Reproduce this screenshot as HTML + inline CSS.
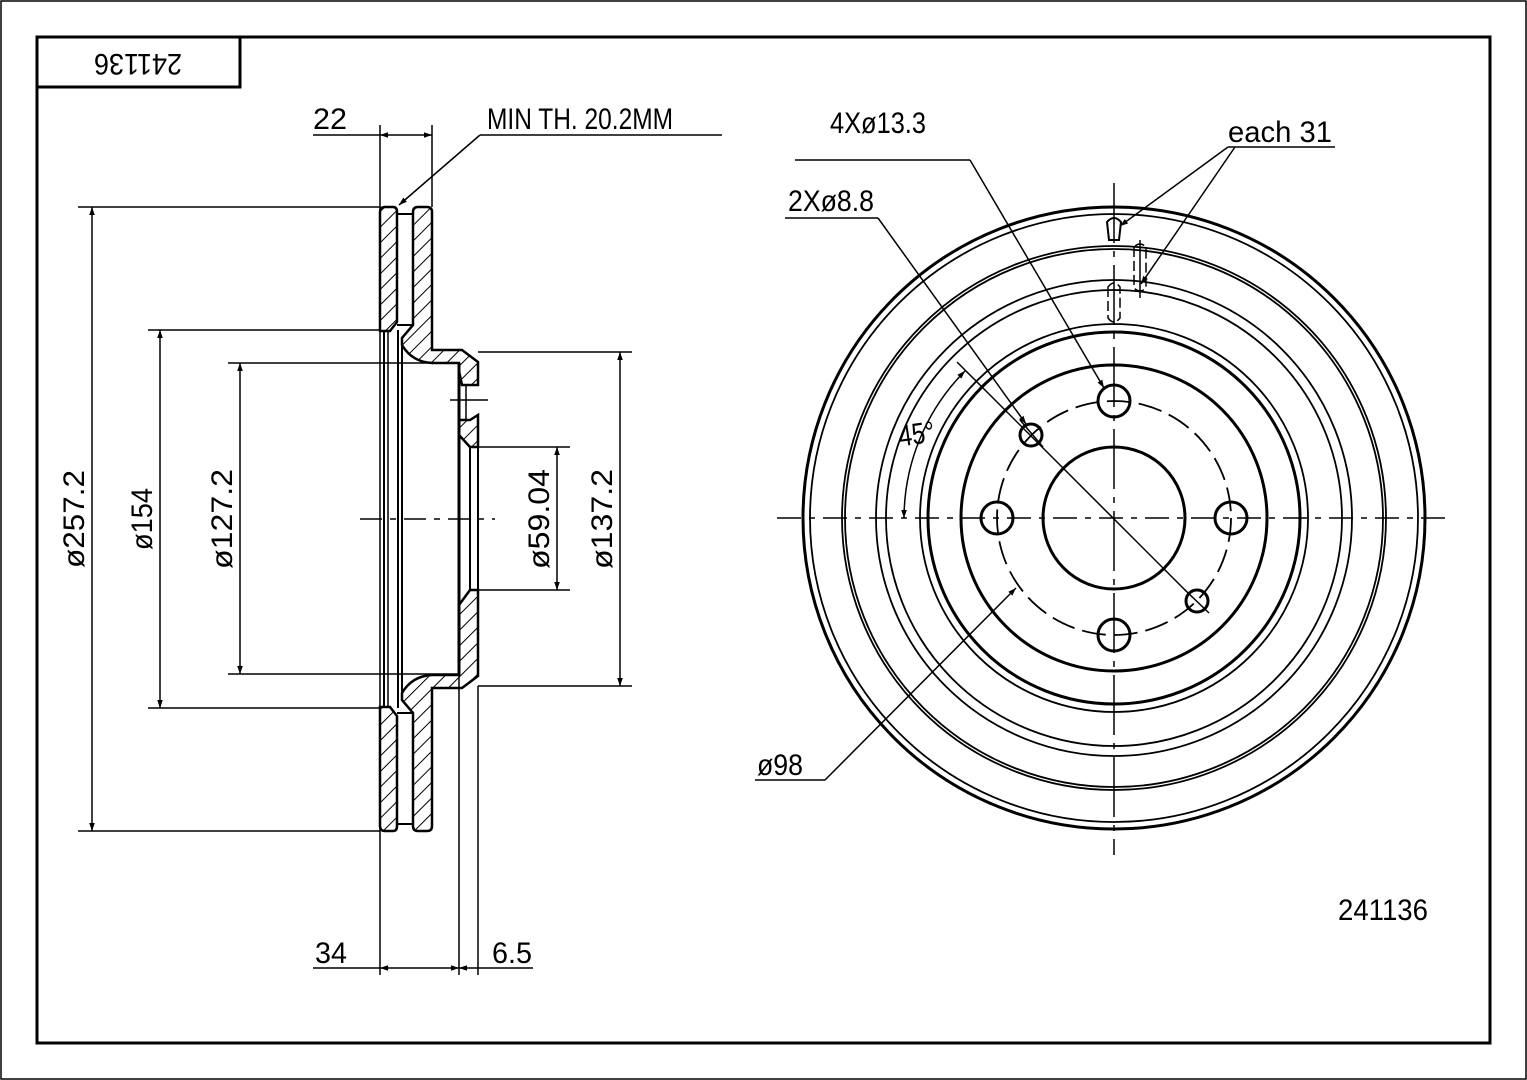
<!DOCTYPE html>
<html><head><meta charset="utf-8"><style>
html,body{margin:0;padding:0;background:#fff}
svg{display:block}
text{font-family:"Liberation Sans",sans-serif;font-size:30px;fill:#000}
</style></head><body>
<svg width="1527" height="1080" viewBox="0 0 1527 1080" xmlns="http://www.w3.org/2000/svg">
<defs>
<pattern id="h" width="11" height="11" patternUnits="userSpaceOnUse" patternTransform="rotate(45)">
<line x1="0" y1="0" x2="0" y2="11" stroke="#000" stroke-width="2"/>
</pattern>
<marker id="a" viewBox="0 0 10 10" refX="10" refY="5" markerWidth="14" markerHeight="8" orient="auto-start-reverse" markerUnits="userSpaceOnUse">
<path d="M0,1.5 L10,5 L0,8.5 Z" fill="#000"/>
</marker>
</defs>
<rect x="1" y="1" width="1525" height="1078" fill="none" stroke="#000" stroke-width="1.5"/>
<rect x="37" y="37" width="1453" height="1006" fill="none" stroke="#000" stroke-width="3"/>
<rect x="37" y="37" width="203" height="50" fill="none" stroke="#000" stroke-width="3"/>
<text x="138" y="62" transform="rotate(180 138 62)" text-anchor="middle" dominant-baseline="middle" textLength="88" lengthAdjust="spacingAndGlyphs">241136</text>

<g stroke="#000" fill="none">
<line x1="384" y1="330" x2="384" y2="708" stroke-width="2"/>
<line x1="388" y1="330" x2="388" y2="708" stroke-width="1.5"/>
<line x1="398" y1="330" x2="398" y2="708" stroke-width="2"/>
<line x1="402" y1="345" x2="402" y2="695" stroke-width="2"/>
<path d="M380,212 Q380,207 385,207 L393,207 Q397,207 397,212 L397,322 L390,331 L380,331 Z" fill="url(#h)" stroke-width="2.5"/>
<path d="M380,826 Q380,831 385,831 L393,831 Q397,831 397,826 L397,716 L390,707 L380,707 Z" fill="url(#h)" stroke-width="2.5"/>
<path d="M413,212 Q413,207 418,207 L427,207 Q432,207 432,212 L432,350 L462,350 L478,362 L478,385 L462,385 L459,371 L459,363 L432,363 Q412,362 402,345 L402,338 L413,325 Z" fill="url(#h)" stroke-width="2.5"/>
<path d="M413,826 Q413,831 418,831 L427,831 Q432,831 432,826 L432,688 L462,688 L478,676 L478,590 L470,590 L459,605 L459,675 L432,675 Q412,676 402,693 L402,700 L413,713 Z" fill="url(#h)" stroke-width="2.5"/>
<path d="M459,420 L470,420 L478,415 L478,447 L470,447 L459,435 Z" fill="url(#h)" stroke-width="2.5"/>
<line x1="397" y1="214" x2="413" y2="214" stroke-width="2"/>
<line x1="397" y1="325" x2="413" y2="325" stroke-width="2"/>
<line x1="397" y1="713" x2="413" y2="713" stroke-width="2"/>
<line x1="397" y1="824" x2="413" y2="824" stroke-width="2"/>
<line x1="459" y1="363" x2="459" y2="675" stroke-width="3"/>
<line x1="466" y1="385" x2="466" y2="420" stroke-width="1.5"/>
<line x1="470" y1="447" x2="470" y2="590" stroke-width="2"/>
<line x1="478" y1="447" x2="478" y2="590" stroke-width="2"/>
<line x1="450" y1="400" x2="488" y2="400" stroke-width="1.5"/>
<line x1="360" y1="519" x2="495" y2="519" stroke-width="1.5" stroke-dasharray="22,8,6,8"/>
</g>

<g stroke="#000" stroke-width="1.5" fill="none">
<line x1="380" y1="125" x2="380" y2="975"/>
<line x1="432" y1="125" x2="432" y2="207"/>
<line x1="459" y1="675" x2="459" y2="975"/>
<line x1="478" y1="686" x2="478" y2="975"/>
<line x1="313" y1="135" x2="380" y2="135"/>
<line x1="380" y1="135" x2="432" y2="135" marker-start="url(#a)" marker-end="url(#a)"/>
<line x1="480" y1="135" x2="722" y2="135"/>
<line x1="480" y1="135" x2="399" y2="205" marker-end="url(#a)"/>
<line x1="78" y1="207" x2="380" y2="207"/>
<line x1="78" y1="831" x2="380" y2="831"/>
<line x1="92" y1="207" x2="92" y2="831" marker-start="url(#a)" marker-end="url(#a)"/>
<line x1="148" y1="330" x2="380" y2="330"/>
<line x1="148" y1="708" x2="380" y2="708"/>
<line x1="160" y1="330" x2="160" y2="708" marker-start="url(#a)" marker-end="url(#a)"/>
<line x1="228" y1="363" x2="459" y2="363"/>
<line x1="228" y1="674" x2="459" y2="674"/>
<line x1="240" y1="363" x2="240" y2="674" marker-start="url(#a)" marker-end="url(#a)"/>
<line x1="478" y1="447" x2="570" y2="447"/>
<line x1="478" y1="590" x2="570" y2="590"/>
<line x1="557" y1="447" x2="557" y2="590" marker-start="url(#a)" marker-end="url(#a)"/>
<line x1="478" y1="352" x2="632" y2="352"/>
<line x1="478" y1="686" x2="632" y2="686"/>
<line x1="620" y1="352" x2="620" y2="686" marker-start="url(#a)" marker-end="url(#a)"/>
<line x1="313" y1="968" x2="380" y2="968"/>
<line x1="380" y1="968" x2="459" y2="968" marker-start="url(#a)" marker-end="url(#a)"/>
<line x1="459" y1="968" x2="478" y2="968" marker-start="url(#a)"/>
<line x1="478" y1="968" x2="533" y2="968"/>
</g>
<text x="313" y="129" textLength="34" lengthAdjust="spacingAndGlyphs">22</text>
<text x="487" y="129" textLength="186" lengthAdjust="spacingAndGlyphs">MIN TH. 20.2MM</text>
<text x="315" y="963" textLength="32" lengthAdjust="spacingAndGlyphs">34</text>
<text x="492" y="963" textLength="40" lengthAdjust="spacingAndGlyphs">6.5</text>
<text transform="translate(84 519) rotate(-90)" text-anchor="middle" textLength="98" lengthAdjust="spacingAndGlyphs">ø257.2</text>
<text transform="translate(152 519) rotate(-90)" text-anchor="middle" textLength="62" lengthAdjust="spacingAndGlyphs">ø154</text>
<text transform="translate(232 519) rotate(-90)" text-anchor="middle" textLength="100" lengthAdjust="spacingAndGlyphs">ø127.2</text>
<text transform="translate(549 519) rotate(-90)" text-anchor="middle" textLength="100" lengthAdjust="spacingAndGlyphs">ø59.04</text>
<text transform="translate(612 519) rotate(-90)" text-anchor="middle" textLength="100" lengthAdjust="spacingAndGlyphs">ø137.2</text>

<g stroke="#000" fill="none">
<circle cx="1114" cy="518" r="311" stroke-width="3"/>
<circle cx="1114" cy="518" r="304" stroke-width="1.8"/>
<circle cx="1114" cy="518" r="272" stroke-width="1.8"/>
<circle cx="1114" cy="518" r="269" stroke-width="1.8"/>
<circle cx="1114" cy="518" r="238" stroke-width="1.8"/>
<circle cx="1114" cy="518" r="228" stroke-width="1.8"/>
<circle cx="1114" cy="518" r="194" stroke-width="1.8"/>
<circle cx="1114" cy="518" r="186" stroke-width="3"/>
<circle cx="1114" cy="518" r="153" stroke-width="3"/>
<circle cx="1114" cy="518" r="117" stroke-width="1.8" stroke-dasharray="24,8"/>
<circle cx="1114" cy="518" r="71" stroke-width="3"/>
<circle cx="1114" cy="401" r="16" stroke-width="3"/>
<circle cx="997" cy="518" r="16" stroke-width="3"/>
<circle cx="1231" cy="518" r="16" stroke-width="3"/>
<circle cx="1114" cy="635" r="16" stroke-width="3"/>
<circle cx="1031" cy="435" r="11" stroke-width="3"/>
<circle cx="1197" cy="601" r="11" stroke-width="3"/>
<path d="M1107,222 Q1114,214 1121,222 L1119,240 L1109,240 Z" stroke-width="2"/>
<path d="M1134,247 L1134,288 Q1140,294 1146,288 L1146,247 Q1140,241 1134,247 Z" stroke-width="1.5" stroke-dasharray="10,4"/>
<path d="M1108,287 L1108,318 Q1114,326 1120,318 L1120,287 Q1114,279 1108,287 Z" stroke-width="1.5" stroke-dasharray="10,4"/>
<line x1="777" y1="518" x2="1452" y2="518" stroke-width="1.5" stroke-dasharray="24,8,6,8"/>
<line x1="1114" y1="183" x2="1114" y2="855" stroke-width="1.5" stroke-dasharray="60,8,6,8"/>
<line x1="957" y1="362" x2="1187" y2="592" stroke-width="1.5"/>
<line x1="1020" y1="420" x2="1043" y2="447" stroke-width="1.5"/>
<line x1="1185" y1="590" x2="1209" y2="613" stroke-width="1.5"/>
<line x1="1140" y1="240" x2="1140" y2="298" stroke-width="1.5"/>
</g>
<g stroke="#000" stroke-width="1.5" fill="none">
<path d="M965,371 A210,210 0 0 0 904,518" marker-start="url(#a)" marker-end="url(#a)"/>
<line x1="795" y1="160" x2="970" y2="160"/>
<line x1="970" y1="160" x2="1104" y2="388" marker-end="url(#a)"/>
<line x1="785" y1="218" x2="878" y2="218"/>
<line x1="878" y1="218" x2="1026" y2="424" marker-end="url(#a)"/>
<line x1="1228" y1="147" x2="1335" y2="147"/>
<line x1="1228" y1="147" x2="1120" y2="226" marker-end="url(#a)"/>
<line x1="1235" y1="147" x2="1141" y2="284" marker-end="url(#a)"/>
<line x1="755" y1="780" x2="825" y2="780"/>
<line x1="825" y1="780" x2="1016" y2="588" marker-end="url(#a)"/>
</g>
<text x="830" y="133" textLength="96" lengthAdjust="spacingAndGlyphs">4Xø13.3</text>
<text x="788" y="211" textLength="86" lengthAdjust="spacingAndGlyphs">2Xø8.8</text>
<text x="1228" y="142" textLength="104" lengthAdjust="spacingAndGlyphs">each 31</text>
<text x="757" y="775" textLength="46" lengthAdjust="spacingAndGlyphs">ø98</text>
<text transform="translate(918 444) rotate(-8)" text-anchor="middle" textLength="36" lengthAdjust="spacingAndGlyphs">45°</text>
<text x="1338" y="920" textLength="90" lengthAdjust="spacingAndGlyphs">241136</text>
</svg>
</body></html>
